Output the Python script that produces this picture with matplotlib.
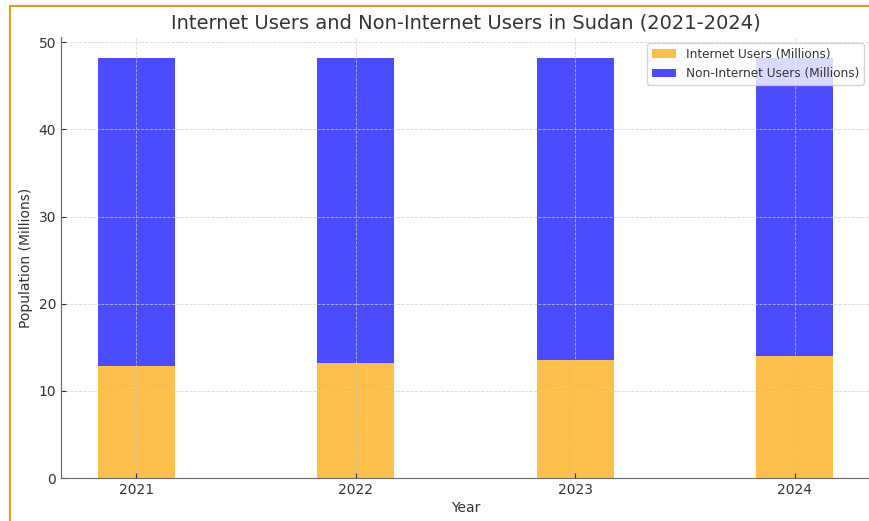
import matplotlib.pyplot as plt
from matplotlib.lines import Line2D

years = ['2021', '2022', '2023', '2024']
internet_users = [12.9, 13.2, 13.5, 14.0]
non_internet_users = [35.3, 35.0, 34.7, 34.2]

plt.rcParams['text.color'] = '#333333'
plt.rcParams['axes.labelcolor'] = '#333333'
plt.rcParams['xtick.color'] = '#333333'
plt.rcParams['ytick.color'] = '#333333'
plt.rcParams['xtick.direction'] = 'in'
plt.rcParams['ytick.direction'] = 'in'

fig = plt.figure(figsize=(8.69, 5.21), dpi=100)
ax = fig.add_axes([61 / 869, 1 - 478 / 521, 809 / 869, 441 / 521])

x = range(len(years))
ax.bar(x, internet_users, width=0.35, color='orange', alpha=0.7, label='Internet Users (Millions)')
ax.bar(x, non_internet_users, width=0.35, bottom=internet_users, color='blue', alpha=0.7,
       label='Non-Internet Users (Millions)')

ax.set_xticks(list(x))
ax.set_xticklabels(years)
ax.tick_params(labelsize=10, colors='#333333')
ax.set_title('Internet Users and Non-Internet Users in Sudan (2021-2024)', fontsize=14)
ax.set_xlabel('Year', labelpad=3)
ax.set_ylabel('Population (Millions)', labelpad=4)
ax.legend(loc='upper right', fontsize=8.75)
ax.grid(True, linestyle='--', linewidth=0.6, color='#cccccc', alpha=0.8)

for side in ['top', 'right']:
    ax.spines[side].set_visible(False)
for side in ['left', 'bottom']:
    ax.spines[side].set_color('#666666')

# frame of the screenshot
gold = '#D4A21A'
fig.add_artist(Line2D([10 / 869, 10 / 869], [0, 1 - 6 / 521], color=gold, lw=1.5))
fig.add_artist(Line2D([10 / 869, 1], [1 - 6 / 521, 1 - 6 / 521], color=gold, lw=1.5))

fig.savefig('out.png', dpi=100)
